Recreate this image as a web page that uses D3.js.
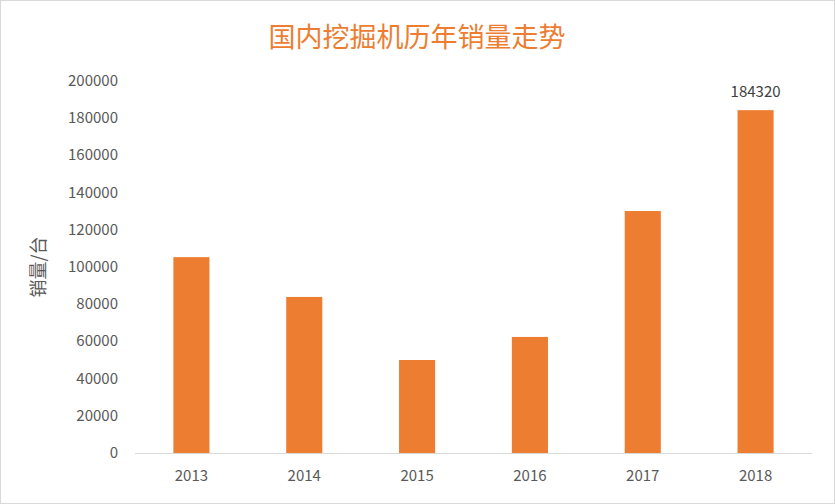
<!DOCTYPE html>
<html><head><meta charset="utf-8">
<script src="https://cdn.jsdelivr.net/npm/d3@7"></script>
<style>body{margin:0;background:#fff}</style>
</head><body>
<svg id="c" width="835" height="504"></svg>
<script>
const years = ['2013', '2014', '2015', '2016', '2017', '2018'];
const sales = [105300, 83900, 50000, 62400, 130100, 184320];
const yTicks = [0, 20000, 40000, 60000, 80000, 100000, 120000, 140000, 160000, 180000, 200000];

const svg = d3.select('#c');
const font = '"Microsoft YaHei","Noto Sans CJK SC",sans-serif';
svg.append('rect').attr('x', 0.5).attr('y', 0.5).attr('width', 834).attr('height', 503)
    .attr('fill', '#fff').attr('stroke', '#d9d9d9');

const x = d3.scaleBand().domain(years).range([135, 812]).paddingInner(0.68).paddingOuter(0.34);
const y = d3.scaleLinear().domain([0, 200000]).range([453, 81]);

svg.append('text').attr('x', 417).attr('y', 47).attr('text-anchor', 'middle')
    .attr('font-family', font).attr('font-size', 27).attr('fill', '#ed7d31')
    .text('国内挖掘机历年销量走势');

svg.append('text').attr('transform', 'translate(45,267) rotate(-90)')
    .attr('text-anchor', 'middle').attr('font-family', font).attr('font-size', 18)
    .attr('fill', '#595959').text('销量/台');

svg.selectAll('.yt').data(yTicks).join('text')
    .attr('x', 118).attr('y', d => y(d) + 5).attr('text-anchor', 'end')
    .attr('font-family', font).attr('font-size', 15).attr('fill', '#595959').text(d => d);

svg.append('line').attr('x1', 135).attr('x2', 812).attr('y1', 453.5).attr('y2', 453.5)
    .attr('stroke', '#d9d9d9');

svg.selectAll('.bar').data(years).join('rect')
    .attr('x', d => x(d)).attr('width', x.bandwidth())
    .attr('y', (d, i) => y(sales[i])).attr('height', (d, i) => y(0) - y(sales[i]))
    .attr('fill', '#ed7d31');

svg.selectAll('.xt').data(years).join('text')
    .attr('x', d => x(d) + x.bandwidth() / 2).attr('y', 481).attr('text-anchor', 'middle')
    .attr('font-family', font).attr('font-size', 15).attr('fill', '#595959').text(d => d);

svg.append('text').attr('x', x('2018') + x.bandwidth() / 2).attr('y', y(184320) - 13)
    .attr('text-anchor', 'middle').attr('font-family', font).attr('font-size', 15)
    .attr('fill', '#404040').text(184320);
</script>
</body></html>
